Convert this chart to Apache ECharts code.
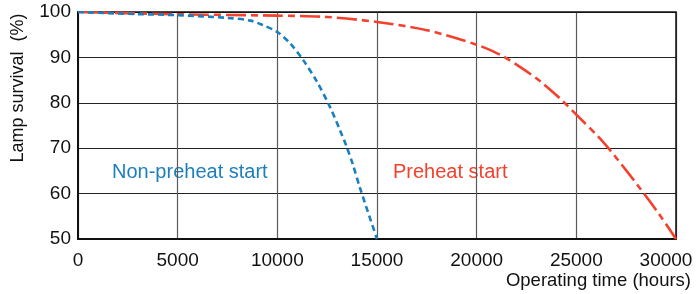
<!DOCTYPE html>
<html>
<head>
<meta charset="utf-8">
<script src="https://cdn.jsdelivr.net/npm/echarts@6/dist/echarts.min.js"></script>
<style>
  html, body { margin: 0; padding: 0; background: #fff; }
  #chart { width: 697px; height: 294px; }
</style>
</head>
<body>
<div id="chart"></div>
<script>
// survival curves (hours, %)
const nonPreheat = [
  [0, 100], [2500, 99.6], [5000, 99.3], [7500, 98.7], [8650, 98.1], [9280, 97.1],
  [10000, 95.6], [10640, 93.1], [11300, 89.4], [11980, 84.7], [12640, 79.1], [13140, 74],
  [13480, 70.3], [13790, 66.4], [14150, 61.2], [15000, 50],
];
const preheat = [
  [0, 100], [5000, 99.5], [10000, 99.2], [12500, 98.9], [15000, 97.8], [17500, 96],
  [20000, 92.8], [21170, 90.6], [22170, 87.9], [23170, 84.8], [24170, 81], [25000, 77.4],
  [26170, 72.2], [27000, 67.9], [28170, 61.3], [29200, 55.2], [30000, 50],
];
const BLUE = "#1b7fbf";
const RED = "#f4402c";
const FONT = "Liberation Sans, Arial, sans-serif";

const chart = echarts.init(document.getElementById("chart"));
chart.setOption({
  animation: false,
  grid: { left: 78, top: 12, width: 598, height: 227, outerBoundsMode: "none" },
  xAxis: {
    type: "value", min: 0, max: 30000, interval: 5000,
    axisLine: { show: true, lineStyle: { color: "#111", width: 2 } },
    axisTick: { show: false },
    axisLabel: {
      color: "#111", fontSize: 19, fontFamily: FONT, margin: 12,
      // 30000 sits a little left of its tick, as in the source
      formatter: (v) => (v === 30000 ? "{last|30000}" : String(v)),
      rich: { last: { fontSize: 19, fontFamily: FONT, color: "#111", padding: [0, 20, 0, 0] } },
    },
    splitLine: { show: true, lineStyle: { color: "#5a5a5a", width: 1.2 } },
  },
  yAxis: {
    type: "value", min: 50, max: 100, interval: 10,
    axisLine: { show: true, lineStyle: { color: "#111", width: 2 } },
    axisTick: { show: false },
    axisLabel: { color: "#111", fontSize: 19, fontFamily: FONT, margin: 7 },
    splitLine: { show: true, lineStyle: { color: "#222", width: 1.2 } },
  },
  graphic: [
    { type: "rect", shape: { x: 78, y: 12, width: 598, height: 227 }, style: { fill: "none", stroke: "#111", lineWidth: 1.5 }, silent: true, z: 1 },
    { type: "text", x: 18, y: 88, rotation: Math.PI / 2,
      style: { text: "Lamp survival  (%)", fill: "#111", font: "18px " + FONT, align: "center", verticalAlign: "middle" } },
    { type: "text", x: 691, y: 281,
      style: { text: "Operating time (hours)", fill: "#111", font: "18.5px " + FONT, align: "right", verticalAlign: "middle" } },
    { type: "text", x: 112, y: 172, style: { text: "Non-preheat start", fill: BLUE, font: "20px " + FONT, verticalAlign: "middle" } },
    { type: "text", x: 393, y: 172, style: { text: "Preheat start", fill: RED, font: "20px " + FONT, verticalAlign: "middle" } },
  ],
  series: [
    {
      type: "line", data: preheat, smooth: 0.3, showSymbol: false, z: 3,
      lineStyle: { color: RED, width: 2.6, type: [20, 5, 7, 5] },
    },
    {
      type: "line", data: nonPreheat, smooth: 0.3, showSymbol: false, z: 4,
      lineStyle: { color: BLUE, width: 2.6, type: [6, 4] },
    },
  ],
});
</script>
</body>
</html>
